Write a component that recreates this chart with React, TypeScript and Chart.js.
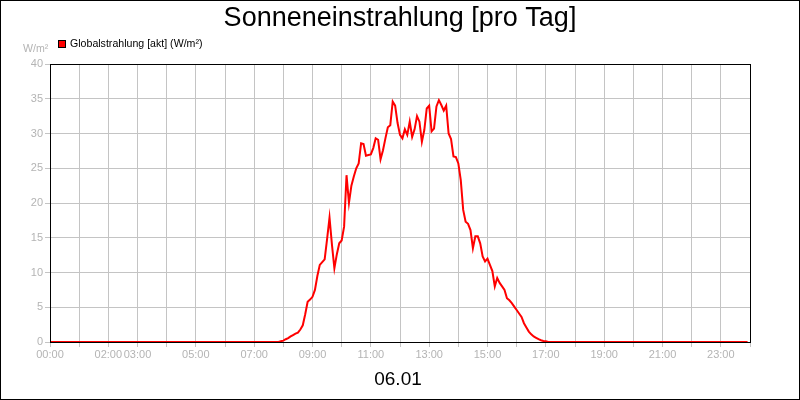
import React, { useEffect, useRef } from "react";
import { Chart, registerables } from "chart.js";

Chart.register(...registerables);

const TITLE = "Sonneneinstrahlung [pro Tag]";
const DATE_LABEL = "06.01";
const SERIES_NAME = "Globalstrahlung [akt] (W/m²)";
const UNIT = "W/m²";

const xTickLabels = ["00:00", "02:00", "03:00", "05:00", "07:00", "09:00", "11:00", "13:00", "15:00", "17:00", "19:00", "21:00", "23:00"];
const yTicks = [0, 5, 10, 15, 20, 25, 30, 35, 40];

const times = [
  "00:00", "07:50", "07:55", "08:00", "08:05", "08:10", "08:15", "08:20", "08:25", "08:30",
  "08:35", "08:40", "08:45", "08:50", "08:55", "09:00", "09:05", "09:10", "09:15", "09:20",
  "09:25", "09:30", "09:35", "09:40", "09:45", "09:50", "09:55", "10:00", "10:05", "10:10",
  "10:15", "10:20", "10:25", "10:30", "10:35", "10:40", "10:45", "10:50", "10:55", "11:00",
  "11:05", "11:10", "11:15", "11:20", "11:25", "11:30", "11:35", "11:40", "11:45", "11:50",
  "11:55", "12:00", "12:05", "12:10", "12:15", "12:20", "12:25", "12:30", "12:35", "12:40",
  "12:45", "12:50", "12:55", "13:00", "13:05", "13:10", "13:15", "13:20", "13:25", "13:30",
  "13:35", "13:40", "13:45", "13:50", "13:55", "14:00", "14:05", "14:10", "14:15", "14:20",
  "14:25", "14:30", "14:35", "14:40", "14:45", "14:50", "14:55", "15:00", "15:05", "15:10",
  "15:15", "15:20", "15:25", "15:30", "15:35", "15:40", "15:45", "15:50", "15:55", "16:00",
  "16:05", "16:10", "16:15", "16:20", "16:25", "16:30", "16:35", "16:40", "16:45", "16:50",
  "16:55", "17:00", "17:05", "23:55",
];

const values = [
  0, 0, 0.1, 0.2, 0.4, 0.55, 0.8, 1.0, 1.2, 1.35,
  1.8, 2.4, 4.0, 5.8, 6.1, 6.5, 7.5, 9.5, 11.1, 11.5,
  11.9, 14.8, 17.9, 14.0, 10.6, 12.6, 14.2, 14.6, 16.6, 24.0,
  20.0, 22.5, 23.8, 25.0, 25.7, 28.6, 28.5, 26.8, 26.9, 27.0,
  27.9, 29.3, 29.1, 26.3, 27.6, 29.3, 30.9, 31.2, 34.6, 34.0,
  31.5, 29.8, 29.3, 30.6, 29.8, 31.7, 29.5, 30.6, 32.5, 31.7,
  28.8, 30.5, 33.6, 34.0, 30.3, 30.7, 33.9, 34.8, 34.1, 33.3,
  34.0, 30.0, 29.2, 26.7, 26.6, 25.7, 23.3, 19.0, 17.3, 17.0,
  16.1, 13.5, 15.2, 15.2, 14.2, 12.3, 11.6, 12.0, 11.1, 10.2,
  8.0, 9.2, 8.5, 8.0, 7.5, 6.3, 6.0, 5.6, 5.1, 4.6,
  4.1, 3.6, 2.7, 2.1, 1.5, 1.1, 0.8, 0.6, 0.4, 0.25,
  0.15, 0.1, 0, 0,
];

const FONT = "'Liberation Sans', Arial, sans-serif";
const GRAY_TEXT = "#b4b4b4";
const GRID = "#c4c4c4";
const RED = "#ff0000";

function toHours(t: string): number {
  const [h, m] = t.split(":").map(Number);
  return h + m / 60;
}

const decorPlugin = {
  id: "decor",
  afterDraw(chart: any) {
    const ctx = chart.ctx as CanvasRenderingContext2D;
    const { left, right, top, bottom } = chart.chartArea;
    ctx.save();
    // plot frame
    ctx.strokeStyle = "#000";
    ctx.lineWidth = 1;
    ctx.strokeRect(Math.round(left) + 0.5, Math.round(top) + 0.5, Math.round(right - left), Math.round(bottom - top));
    // outer border
    ctx.strokeRect(0.5, 0.5, chart.width - 1, chart.height - 1);
    // title
    ctx.fillStyle = "#000";
    ctx.textAlign = "center";
    ctx.textBaseline = "middle";
    ctx.font = `27px ${FONT}`;
    ctx.fillText(TITLE, chart.width / 2, 19);
    // date label
    ctx.font = `19px ${FONT}`;
    ctx.fillText(DATE_LABEL, chart.width / 2 - 2, 380);
    // unit
    ctx.fillStyle = GRAY_TEXT;
    ctx.textAlign = "left";
    ctx.font = `10.6px ${FONT}`;
    ctx.fillText(UNIT, 23, 49);
    // legend
    ctx.fillStyle = RED;
    ctx.fillRect(58, 41, 7, 7);
    ctx.strokeStyle = "#000";
    ctx.strokeRect(58.5, 40.5, 7, 7);
    ctx.fillStyle = "#000";
    ctx.font = `10.6px ${FONT}`;
    ctx.fillText(SERIES_NAME, 70, 44.5);
    ctx.restore();
  },
};

export default function App() {
  const ref = useRef<HTMLCanvasElement | null>(null);

  useEffect(() => {
    if (!ref.current) return;
    const data = times.map((t, i) => ({ x: toHours(t), y: values[i] }));
    const chart = new Chart(ref.current, {
      type: "line",
      data: {
        datasets: [
          {
            label: SERIES_NAME,
            data,
            borderColor: RED,
            backgroundColor: RED,
            borderWidth: 2,
            pointRadius: 0,
            tension: 0,
            fill: false,
          },
        ],
      },
      options: {
        animation: false,
        responsive: false,
        events: [],
        layout: { padding: { left: 0, right: 50, top: 64, bottom: 0 } },
        plugins: {
          legend: { display: false },
          title: { display: false },
          tooltip: { enabled: false },
        },
        scales: {
          x: {
            type: "linear",
            min: 0,
            max: 24,
            afterFit: (s: any) => {
              s.height = 58;
            },
            afterBuildTicks: (s: any) => {
              const arr = [];
              for (let h = 0; h <= 24; h++) arr.push({ value: h });
              s.ticks = arr;
            },
            ticks: {
              autoSkip: false,
              maxRotation: 0,
              minRotation: 0,
              color: GRAY_TEXT,
              font: { family: FONT, size: 11 },
              padding: 1,
              callback: (v: any) => {
                const lbl = String(Math.round(Number(v))).padStart(2, "0") + ":00";
                return xTickLabels.includes(lbl) ? lbl : "";
              },
            },
            grid: { color: GRID, lineWidth: 1, drawTicks: true, tickLength: 5 },
            border: { color: "#000", width: 1 },
          },
          y: {
            type: "linear",
            min: 0,
            max: 40,
            afterFit: (s: any) => {
              s.width = 50;
            },
            afterBuildTicks: (s: any) => {
              s.ticks = yTicks.map((v) => ({ value: v }));
            },
            ticks: {
              color: GRAY_TEXT,
              font: { family: FONT, size: 11 },
              padding: 2,
            },
            grid: { color: GRID, lineWidth: 1, drawTicks: true, tickLength: 5 },
            border: { color: "#000", width: 1 },
          },
        },
      },
      plugins: [decorPlugin],
    });
    return () => chart.destroy();
  }, []);

  return (
    <div style={{ position: "fixed", left: 0, top: 0, width: 800, height: 400, background: "#fff" }}>
      <canvas ref={ref} width={800} height={400} style={{ display: "block" }} />
    </div>
  );
}
